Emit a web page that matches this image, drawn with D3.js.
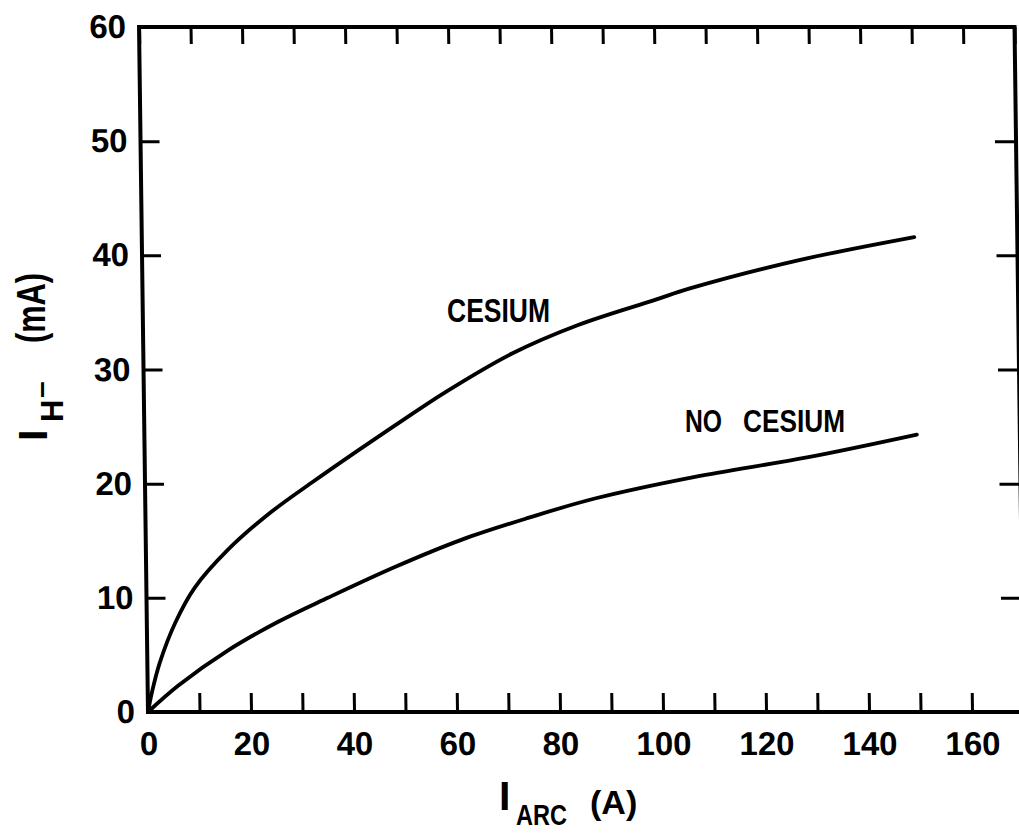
<!DOCTYPE html>
<html>
<head>
<meta charset="utf-8">
<script src="https://cdn.jsdelivr.net/npm/d3@7"></script>
<style>
  html, body { margin: 0; padding: 0; background: #fff; }
  svg { display: block; }
  text { font-family: "Liberation Sans", Arial, Helvetica, sans-serif; font-weight: bold; fill: #000; }
</style>
</head>
<body>
<svg id="chart" width="1019" height="833"></svg>
<script>
// ---- data ----
const cesiumX   = [0, 0.8, 2.4, 5.5, 9.4, 15.9, 23.8, 32.4, 41.4, 48.7, 58.5, 71.6, 84.5, 99.5, 106.3, 127.8, 150];
const cesiumY   = [0, 1.7, 4.3, 7.8, 10.9, 14.2, 17.3, 20.1, 22.9, 25.1, 28.0, 31.4, 33.9, 36.1, 37.1, 39.6, 41.6];
const noCesiumX = [0, 5.9, 15.7, 25.5, 35.2, 48.3, 61.4, 74.3, 87.3, 106.8, 128.6, 150];
const noCesiumY = [0, 2.3, 5.4, 7.9, 10.0, 12.7, 15.1, 17.0, 18.7, 20.6, 22.3, 24.3];
const xTicks = [0, 10, 20, 30, 40, 50, 60, 70, 80, 90, 100, 110, 120, 130, 140, 150, 160, 170];
const xTickLabels = [0, 20, 40, 60, 80, 100, 120, 140, 160];
const yTicks = [0, 10, 20, 30, 40, 50, 60];
const xDomain = [0, 170];
const yDomain = [0, 60];

// ---- layout ----
const pLeft = 148, pRight = 1023.5, pTop = 27, pBottom = 712;
const svg = d3.select("#chart");

const x = d3.scaleLinear().domain(xDomain).range([pLeft, pRight]);
const y = d3.scaleLinear().domain(yDomain).range([pBottom, pTop]);

// the scanned figure is slightly sheared; reproduce with a small skew about the x axis
const g = svg.append("g")
  .attr("transform", `translate(0,${pBottom}) skewX(0.75) translate(0,${-pBottom})`);

function styleAxis(sel) {
  sel.attr("font-size", null).attr("font-family", null);
  sel.select(".domain").remove();
  sel.selectAll(".tick line").attr("stroke", "#000").attr("stroke-width", 3);
  sel.selectAll(".tick text").style("font-size", "33px").attr("fill", "#000");
}

g.append("g").attr("transform", `translate(0,${pBottom})`)
  .call(d3.axisBottom(x).tickValues(xTicks).tickSize(-19).tickPadding(20)
    .tickFormat(d => xTickLabels.includes(d) ? d : ""))
  .call(styleAxis);

g.append("g").attr("transform", `translate(0,${pTop})`)
  .call(d3.axisTop(x).tickValues(xTicks).tickSize(-17).tickFormat(""))
  .call(styleAxis);

g.append("g").attr("transform", `translate(${pLeft},0)`)
  .call(d3.axisLeft(y).tickValues(yTicks).tickSize(-19).tickPadding(13))
  .call(styleAxis);

g.append("g").attr("transform", `translate(${pRight},0)`)
  .call(d3.axisRight(y).tickValues(yTicks).tickSize(-21).tickFormat(""))
  .call(styleAxis);

// frame
g.append("rect")
  .attr("x", pLeft).attr("y", pTop)
  .attr("width", pRight - pLeft).attr("height", pBottom - pTop)
  .attr("fill", "none").attr("stroke", "#000").attr("stroke-width", 4);

// curves
const line = d3.line().x(d => x(d[0])).y(d => y(d[1])).curve(d3.curveCatmullRom.alpha(0.5));
const cesium = cesiumX.map((v, i) => [v, cesiumY[i]]);
const noCesium = noCesiumX.map((v, i) => [v, noCesiumY[i]]);

g.append("path").datum(cesium).attr("d", line)
  .attr("fill", "none").attr("stroke", "#000").attr("stroke-width", 3.8).attr("stroke-linecap", "round");
g.append("path").datum(noCesium).attr("d", line)
  .attr("fill", "none").attr("stroke", "#000").attr("stroke-width", 3.8).attr("stroke-linecap", "round");

// curve labels
svg.append("text").attr("x", 447).attr("y", 322)
  .attr("textLength", 103).attr("lengthAdjust", "spacingAndGlyphs")
  .style("font-size", "33px").text("CESIUM");
svg.append("text").attr("x", 685).attr("y", 432)
  .attr("textLength", 37).attr("lengthAdjust", "spacingAndGlyphs")
  .style("font-size", "31px").text("NO");
svg.append("text").attr("x", 743).attr("y", 432)
  .attr("textLength", 102).attr("lengthAdjust", "spacingAndGlyphs")
  .style("font-size", "31px").text("CESIUM");

// x axis title: I_ARC (A)
svg.append("text").attr("x", 499).attr("y", 810).style("font-size", "41px").text("I");
svg.append("text").attr("x", 516).attr("y", 825)
  .attr("textLength", 51).attr("lengthAdjust", "spacingAndGlyphs")
  .style("font-size", "29px").text("ARC");
svg.append("text").attr("x", 590).attr("y", 814).style("font-size", "34px").text("(A)");

// y axis title: I_H- (mA)  (rotated)
const yt = svg.append("g");
yt.append("text").attr("transform", "translate(47,441) rotate(-90)").style("font-size", "41px").text("I");
yt.append("text").attr("transform", "translate(63,422) rotate(-90)").style("font-size", "31px").text("H");
yt.append("text").attr("transform", "translate(51,398) rotate(-90)").style("font-size", "30px").text("–");
yt.append("text").attr("transform", "translate(45,343) rotate(-90)")
  .attr("textLength", 70).attr("lengthAdjust", "spacingAndGlyphs")
  .style("font-size", "40px").text("(mA)");
</script>
</body>
</html>
